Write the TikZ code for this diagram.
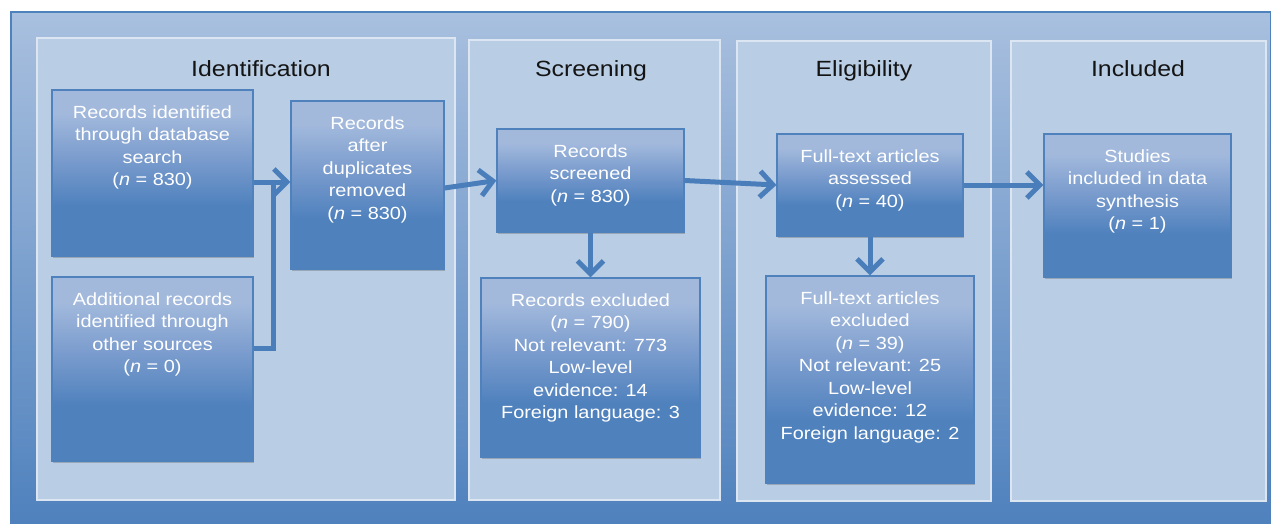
\documentclass[tikz,border=0pt]{standalone}
\usepackage{fontspec}
\setmainfont{Liberation Sans}
\newfontfamily\boxfont[FakeStretch=1.13]{Liberation Sans}
\usetikzlibrary{arrows.meta,shadows,calc}

\definecolor{outerlight}{HTML}{A9C0DF}
\definecolor{outerdark}{HTML}{4F81BD}
\definecolor{panelfill}{HTML}{B9CDE5}
\definecolor{panelline}{HTML}{DCE6F2}
\definecolor{boxlight}{HTML}{A2B9DC}
\definecolor{boxmid}{HTML}{7C9DCE}
\definecolor{boxdark}{HTML}{4F81BD}
\definecolor{arrowblue}{HTML}{4A7EBB}

\pgfdeclareverticalshading{boxshade}{100bp}{color(0bp)=(boxdark); color(25bp)=(boxdark); color(40bp)=(boxdark); color(55bp)=(boxmid); color(68bp)=(boxlight); color(100bp)=(boxlight)}

\tikzset{
  panel/.style={fill=panelfill, draw=panelline, line width=1.5pt, inner sep=0pt},
  flowbox/.style={draw=boxdark, line width=1.2pt, shade, shading=boxshade, inner sep=0pt,
    drop shadow={shadow xshift=1.2pt, shadow yshift=-1.8pt, opacity=0.3, fill=black!70}},
  boxtxt/.style={text=white, font=\boxfont\fontsize{17.6}{22.5}\selectfont, align=center, inner sep=0pt, anchor=north},
  paneltitle/.style={text=black!92, font=\boxfont\fontsize{22}{26}\selectfont, inner sep=0pt, anchor=base},
  conn/.style={draw=arrowblue, line width=5pt},
  arr/.style={conn, -{Straight Barb[length=13pt,width=26pt]}}
}

% \mkbox{name}{x1}{y1}{x2}{y2}{text}
\newcommand\mkbox[6]{%
  \node[flowbox, minimum width=#4-#2, minimum height=#5-#3] (#1) at ({(#2+#4)/2},{(#3+#5)/2}) {};
  \node[boxtxt] (#1-t) at ([yshift=-16pt]#1.north) {#6};
}
\newcommand\mkpanel[5]{%
  \node[panel, minimum width=#4-#2, minimum height=#5-#3] (#1) at ({(#2+#4)/2},{(#3+#5)/2}) {};
}

\begin{document}
\begin{tikzpicture}[x=1pt,y=-1pt]
\useasboundingbox (0,0) rectangle (1271,524);
% outer background
\shade[top color=outerlight, bottom color=outerdark] (11,12) rectangle (1271,524);
\draw[outerdark, line width=1.5pt] (11,12) rectangle (1271,524);

% panels
\mkpanel{p1}{37}{38}{455}{500}
\mkpanel{p2}{469}{40}{720}{500}
\mkpanel{p3}{737}{41}{991}{501}
\mkpanel{p4}{1011}{41}{1266}{501}

\node[paneltitle] (t1) at (261,77) {Identification};
\node[paneltitle] (t2) at (591,77) {Screening};
\node[paneltitle] (t3) at (864,77) {Eligibility};
\node[paneltitle] (t4) at (1138,77) {Included};

% boxes
\mkbox{A}{52}{90}{253}{256}{Records identified\\through database\\search\\(\textit{n} = 830)}
\mkbox{B}{52}{277}{253}{461}{Additional records\\identified through\\other sources\\(\textit{n} = 0)}
\mkbox{C}{291}{101}{444}{269}{Records\\after\\duplicates\\removed\\(\textit{n} = 830)}
\mkbox{D}{497}{129}{684}{232}{Records\\screened\\(\textit{n} = 830)}
\mkbox{E}{481}{278}{700}{457}{Records excluded\\(\textit{n} = 790)\\Not relevant: 773\\Low-level\\evidence: 14\\Foreign language: 3}
\mkbox{F}{777}{134}{963}{236}{Full-text articles\\assessed\\(\textit{n} = 40)}
\mkbox{G}{766}{276}{974}{483}{Full-text articles\\excluded\\(\textit{n} = 39)\\Not relevant: 25\\Low-level\\evidence: 12\\Foreign language: 2}
\mkbox{H}{1044}{134}{1231}{277}{Studies\\included in data\\synthesis\\(\textit{n} = 1)}

% connectors
\coordinate (a1) at ([yshift=-9pt]A.east);
\coordinate (b1) at ([yshift=21pt]B.east);
\coordinate (j) at (273,182);
\draw[conn, line join=miter] (b1) -- (b1 -| j) -- (j);
\draw[arr] (a1) -- (a1 -| C.west);
\draw[arr] ([yshift=-3pt]C.east) -- (D.west);
\draw[arr] (D.east) -- (F.west);
\draw[arr] (F.east) -- (F.east -| H.west);
\draw[arr] (D.south) -- (E.north);
\draw[arr] (F.south) -- (G.north);
\end{tikzpicture}
\end{document}
